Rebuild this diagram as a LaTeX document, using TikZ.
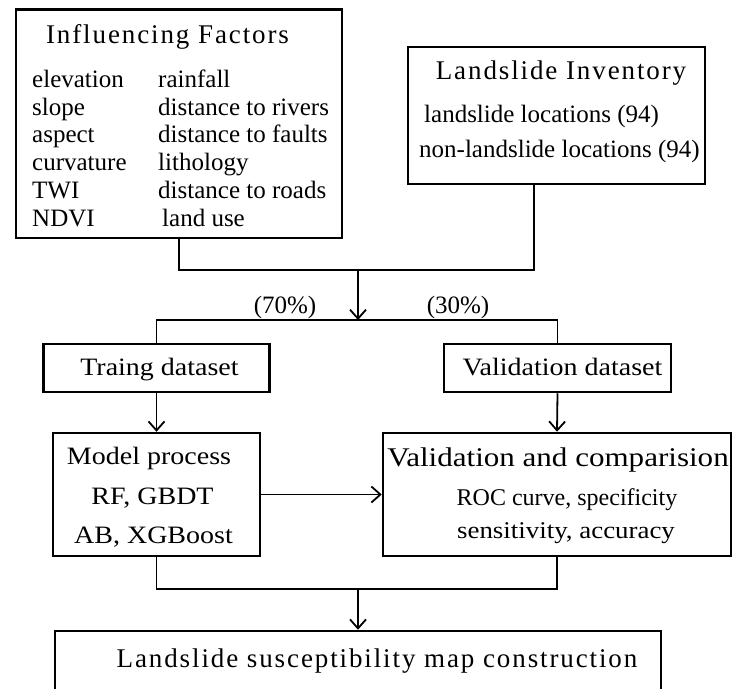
\documentclass[tikz,border=0pt]{standalone}
\usepackage{fontspec}
\setmainfont{Liberation Serif}
\newfontfamily\widefamily[FakeStretch=1.12]{Liberation Serif}
\newfontfamily\broadfamily[FakeStretch=1.15]{Liberation Serif}
\usetikzlibrary{positioning,arrows.meta}

\newcommand\headfont{\fontsize{27}{27}\selectfont\addfontfeature{LetterSpace=7}}
\newcommand\itemfont{\fontsize{25}{25}\selectfont}
\newcommand\boxfont{\widefamily\fontsize{25}{25}\selectfont}

\tikzset{
  box/.style={draw, line width=2.5pt, inner sep=0pt},
  link/.style={line width=1.8pt},
  arr/.style={line width=1.8pt, -{Straight Barb[length=9pt,width=16pt]}},
  item/.style={anchor=base west, inner sep=0pt, font=\itemfont},
  label/.style={anchor=base, inner sep=0pt},
}

\begin{document}
\begin{tikzpicture}[x=1pt,y=-1pt]
        \useasboundingbox (0,0) rectangle (741,688);

        % top boxes
        \node[box, minimum width=326pt, minimum height=228.5pt] (infl) at (179,123.75) {};
        \node[box, minimum width=297pt, minimum height=137pt] (inv) at (556.5,115.5) {};

        \node[label, font=\headfont] (inflT) at (167.5,43) {Influencing Factors};
        \node[item] (e1) at (32,87) {elevation};
        \node[item] (e2) at (32,115) {slope};
        \node[item] (e3) at (32,142) {aspect};
        \node[item] (e4) at (32,170) {curvature};
        \node[item] (e5) at (32,198) {TWI};
        \node[item] (e6) at (32,226) {NDVI};
        \node[item] (f1) at (158,87) {rainfall};
        \node[item] (f2) at (158,115) {distance to rivers};
        \node[item] (f3) at (158,142) {distance to faults};
        \node[item] (f4) at (158,170) {lithology};
        \node[item] (f5) at (158,198) {distance to roads};
        \node[item] (f6) at (162,226) {land use};

        \node[label, font=\headfont] (invT) at (561,79) {Landslide Inventory};
        \node[item] (g1) at (424,122) {landslide locations (94)};
        \node[item] (g2) at (419,157) {non-landslide locations (94)};

        % join and split
        \coordinate (invout) at (534,184);
        \coordinate (join) at (358,270);
        \coordinate (split) at (358,320);
        \draw[link] (infl.south) |- (join) -| (invout);
        \draw[arr] (join) -- (split);

        \node[label, font=\itemfont] (p70) at (285,313) {(70\%)};
        \node[label, font=\itemfont] (p30) at (458,313) {(30\%)};

        % datasets
        \node[box, minimum width=226pt, minimum height=48pt] (train) at (156.5,368) {};
        \node[box, minimum width=227pt, minimum height=48pt] (valid) at (557.5,368) {};
        \node[label, font=\boxfont] (trainT) at (159.5,375) {Traing dataset};
        \node[label, font=\boxfont] (validT) at (562.5,375) {Validation dataset};
        \draw[link] (train.north) |- (split) -| (valid.north);

        % models and validation
        \node[box, minimum width=207pt, minimum height=123pt] (model) at (156.5,494.5) {};
        \node[box, minimum width=348pt, minimum height=123pt] (comp) at (557,494.5) {};
        \node[label, font=\boxfont] (m1) at (149,464) {Model process};
        \node[label, font=\boxfont] (m2) at (152.5,504) {RF, GBDT};
        \node[label, font=\boxfont] (m3) at (153.5,543) {AB, XGBoost};
        \node[label, font=\broadfamily\fontsize{27}{27}\selectfont] (c1) at (558,466) {Validation and comparision};
        \node[label, font=\fontsize{24}{24}\selectfont] (c2) at (567,505) {ROC curve, specificity};
        \node[label, font=\widefamily\fontsize{24}{24}\selectfont] (c3) at (566,538) {sensitivity, accuracy};

        \draw[arr] (train.south) -- (model.north);
        \draw[arr] (valid.south) -- (comp.north);
        \draw[arr] (model.east) -- (comp.west);

        % result
        \coordinate (merge) at (358,589);
        \node[box, minimum width=606pt, minimum height=110pt] (mapc) at (358,686) {};
        \node[label, font=\headfont] (mapT) at (377,667) {Landslide susceptibility map construction};
        \draw[link] (model.south) |- (merge) -| (comp.south);
        \draw[arr] (merge) -- (mapc.north);
\end{tikzpicture}
\end{document}
